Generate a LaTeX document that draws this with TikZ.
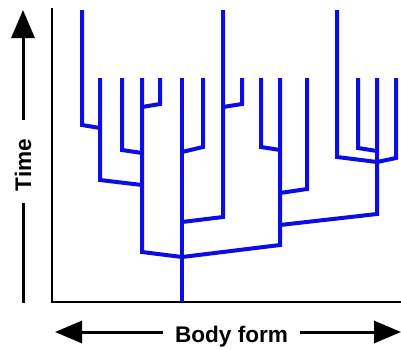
\documentclass[tikz,border=0pt]{standalone}
\usepackage{fontspec}
\setmainfont{Liberation Sans}
\usetikzlibrary{arrows.meta}
\definecolor{treeblue}{RGB}{12,12,228}
\begin{document}
\begin{tikzpicture}[x=1pt,y=-1pt,
  branch/.style={draw=treeblue,line width=4pt,line join=miter},
  axisline/.style={draw=black,line width=2.5pt},
  arrowline/.style={draw=black,line width=3pt},
  lbl/.style={font=\fontsize{22.6}{24}\selectfont\bfseries,inner sep=0pt,text=black}]
\useasboundingbox (0,0) rectangle (401,349);
% axes
\coordinate (atop) at (52,8);
\coordinate (aorig) at (52,302);
\coordinate (aright) at (401,302);
\draw[axisline] (atop) -- (aorig) -- (aright);
% time arrow and label
\node[lbl,rotate=90] (time) at (23,165) {Time};
\coordinate (tA) at (23,120);
\coordinate (tB) at (23,10);
\coordinate (tC) at (23,203);
\coordinate (tD) at (23,303);
\draw[arrowline,-{Triangle[length=28pt,width=23pt]}] (tA) -- (tB);
\draw[arrowline] (tC) -- (tD);
% body form arrow and label
\node[lbl,anchor=base] (body) at (231.5,342) {Body form};
\coordinate (bA) at (163,332);
\coordinate (bB) at (55,332);
\coordinate (bC) at (300,332);
\coordinate (bD) at (401,332);
\draw[arrowline,-{Triangle[length=27pt,width=22pt]}] (bA) -- (bB);
\draw[arrowline,-{Triangle[length=27pt,width=22pt]}] (bC) -- (bD);
% tree: leaf tips
\coordinate (l1) at (82,10);
\coordinate (l2) at (100,78);
\coordinate (l3) at (122,78);
\coordinate (l4) at (142,78);
\coordinate (l5) at (160,78);
\coordinate (l6) at (182,78);
\coordinate (l7) at (203,78);
\coordinate (l8) at (223,10);
\coordinate (l9) at (242,78);
\coordinate (l10) at (261,78);
\coordinate (l11) at (280,78);
\coordinate (l12) at (307,78);
\coordinate (l13) at (337,10);
\coordinate (l14) at (358,78);
\coordinate (l15) at (377,78);
\coordinate (l16) at (396,78);
% bends of children
\coordinate (b1) at (82,125);
\coordinate (b2) at (100,180);
\coordinate (b3) at (122,150);
\coordinate (b4) at (142,252);
\coordinate (b5) at (160,104);
\coordinate (b7) at (203,147);
\coordinate (b8) at (223,217);
\coordinate (b9) at (242,104);
\coordinate (b10) at (261,147);
\coordinate (b11) at (280,245);
\coordinate (b12) at (307,189);
\coordinate (b13) at (337,157);
\coordinate (b14) at (358,148);
\coordinate (b15) at (377,214);
\coordinate (b16) at (396,158);
% junctions on parents
\coordinate (j1) at (100,128);
\coordinate (j2) at (142,185);
\coordinate (j3) at (142,153);
\coordinate (j4) at (182,257);
\coordinate (j5) at (142,107);
\coordinate (j7) at (182,152);
\coordinate (j8) at (182,222);
\coordinate (j9) at (223,107);
\coordinate (j10) at (280,150);
\coordinate (j11) at (182,257);
\coordinate (j12) at (280,193);
\coordinate (j13) at (377,162);
\coordinate (j14) at (377,151);
\coordinate (j15) at (280,225);
\coordinate (j16) at (377,162);
\coordinate (root) at (182,302);
% branches
\draw[branch] (l1) -- (b1) -- (j1);
\draw[branch] (l2) -- (b2) -- (j2);
\draw[branch] (l3) -- (b3) -- (j3);
\draw[branch] (l4) -- (b4) -- (j4);
\draw[branch] (l5) -- (b5) -- (j5);
\draw[branch] (l6) -- (root);
\draw[branch] (l7) -- (b7) -- (j7);
\draw[branch] (l8) -- (b8) -- (j8);
\draw[branch] (l9) -- (b9) -- (j9);
\draw[branch] (l10) -- (b10) -- (j10);
\draw[branch] (l11) -- (b11) -- (j11);
\draw[branch] (l12) -- (b12) -- (j12);
\draw[branch] (l13) -- (b13) -- (j13);
\draw[branch] (l14) -- (b14) -- (j14);
\draw[branch] (l15) -- (b15) -- (j15);
\draw[branch] (l16) -- (b16) -- (j16);
\end{tikzpicture}
\end{document}
